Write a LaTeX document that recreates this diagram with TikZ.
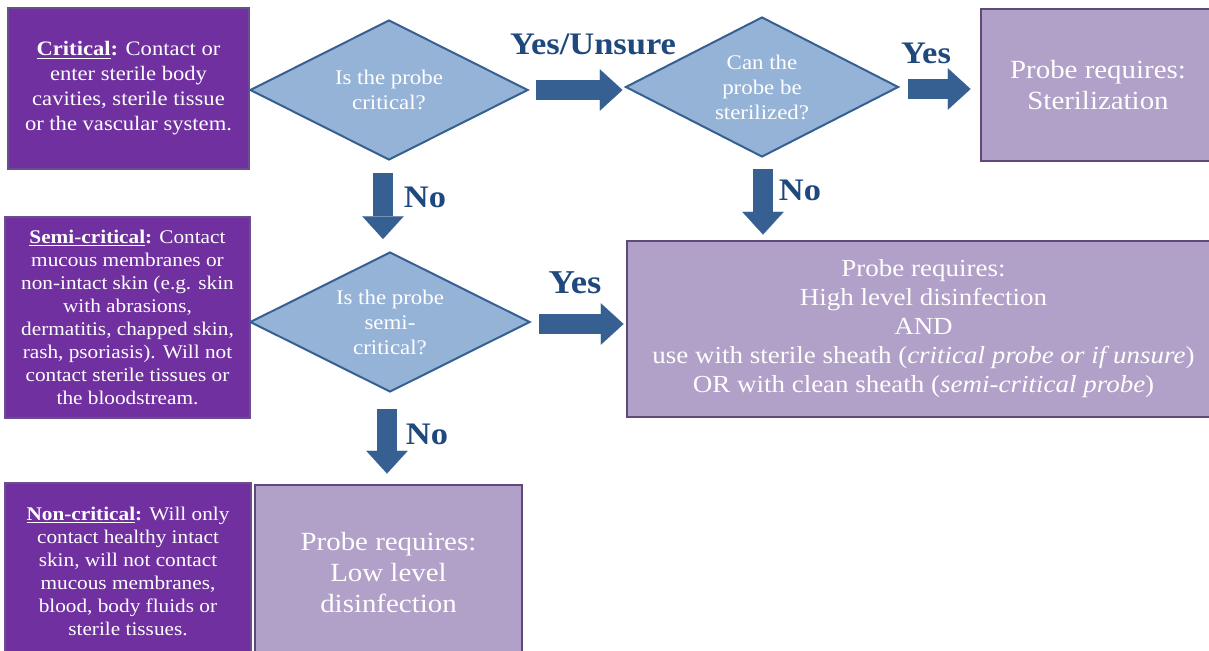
\documentclass[tikz,border=0pt]{standalone}
\usepackage{fontspec}
\setmainfont[FakeStretch=1.1]{Liberation Serif}
\usetikzlibrary{shapes.geometric,arrows.meta,calc}

\definecolor{classpurple}{HTML}{7030A0}
\definecolor{classedge}{HTML}{6A4D8E}
\definecolor{needlilac}{HTML}{B1A0C7}
\definecolor{neededge}{HTML}{5F497A}
\definecolor{askblue}{HTML}{95B3D7}
\definecolor{askedge}{HTML}{366092}
\definecolor{flowblue}{HTML}{376092}
\definecolor{wordblue}{HTML}{1F497D}

\begin{document}
\begin{tikzpicture}[
	x=0.75pt, y=-0.75pt,
  classbox/.style = {draw=classedge, line width=1pt, fill=classpurple, text=white, align=center, inner sep=0pt, font=\fontsize{14.5}{17.25}\selectfont},
  needbox/.style = {draw=neededge, line width=2.2pt, fill=needlilac, text=white, align=center, inner sep=0pt, font=\fontsize{19.7}{23.4}\selectfont},
  ask/.style = {diamond, aspect=2, draw=askedge, line width=1.5pt, fill=askblue, text=white, align=center, inner sep=0pt, font=\fontsize{15.6}{18.75}\selectfont},
  flow/.style = {draw=flowblue, line width=15pt, -{Triangle[width=31pt,length=17pt,line width=0.01pt]}},
  answer/.style = {text=wordblue, inner sep=0pt, font=\bfseries\fontsize{23.5}{26}\selectfont}
  ]
	\clip (0,0) rectangle (1209,650);

	% probe classes
	\node[classbox, minimum width=180.75pt, minimum height=120.75pt, font=\fontsize{15.4}{18.75}\selectfont] (crit) at (128.5,88.5)
		{\underline{\textbf{Critical}}\textbf{:} Contact or\\enter sterile body\\cavities, sterile tissue\\or the vascular system.};
	\node[classbox, minimum width=183.75pt, minimum height=150.75pt] (semi) at (127.5,317.5)
		{\underline{\textbf{Semi-critical}}\textbf{:} Contact\\mucous membranes or\\non-intact skin (e.g. skin\\with abrasions,\\dermatitis, chapped skin,\\rash, psoriasis). Will not\\contact sterile tissues or\\the bloodstream.};
	\node[classbox, minimum width=184.5pt, minimum height=132.75pt] (noncrit) at (128,571.5)
		{\underline{\textbf{Non-critical}}\textbf{:} Will only\\contact healthy intact\\skin, will not contact\\mucous membranes,\\blood, body fluids or\\sterile tissues.};

	% questions
	\node[ask, minimum width=208.5pt, minimum height=105pt] (qcrit) at (389,90) {Is the probe\\critical?};
	\node[ask, minimum width=204.75pt, minimum height=105pt] (qster) at (762,87) {Can the\\probe be\\sterilized?};
	\node[ask, minimum width=210pt, minimum height=105pt] (qsemi) at (390,322) {Is the probe\\semi-\\critical?};

	% requirements
	\node[needbox, minimum width=175.5pt, minimum height=114pt] (ster) at (1098,85) {Probe requires:\\Sterilization};
	\node[needbox, minimum width=444.75pt, minimum height=132pt, font=\fontsize{18.4}{21.75}\selectfont] (hld) at (923.5,329)
		{Probe requires:\\High level disinfection\\AND\\use with sterile sheath (\textit{critical probe or if unsure})\\OR with clean sheath (\textit{semi-critical probe})};
	\node[needbox, minimum width=200.25pt, minimum height=131.25pt] (lld) at (388.5,572.5) {Probe requires:\\Low level\\disinfection};

	% answers
	\draw[flow] ($(qcrit.east)+(7,0)$) -- ($(qcrit.east -| qster.west)+(-2,0)$);
	\draw[flow] ($(qster.east)+(8,2)$) -- ($(qster.east -| ster.west)+(-9,2)$);
	\draw[flow] ($(qcrit.south)+(-6,12)$) -- ($(qcrit.south |- qsemi.north)+(-6,-12)$);
	\draw[flow] ($(qster.south)+(1,11)$) -- ($(qster.south |- hld.north)+(1,-5)$);
	\draw[flow] ($(qsemi.east)+(8,2)$) -- ($(qsemi.east -| hld.west)+(-2,2)$);
	\draw[flow] ($(qsemi.south)+(-3,16)$) -- ($(qsemi.south |- lld.north)+(-3,-10)$);

	\node[answer] (yesunsure) at (593,44) {Yes/Unsure};
	\node[answer] (yesster) at (926,53) {Yes};
	\node[answer] (nocrit) at (425,197) {No};
	\node[answer] (noster) at (800,190) {No};
	\node[answer, font=\bfseries\fontsize{25}{28}\selectfont] (yessemi) at (575,283) {Yes};
	\node[answer] (nosemi) at (427,434) {No};

\end{tikzpicture}
\end{document}
